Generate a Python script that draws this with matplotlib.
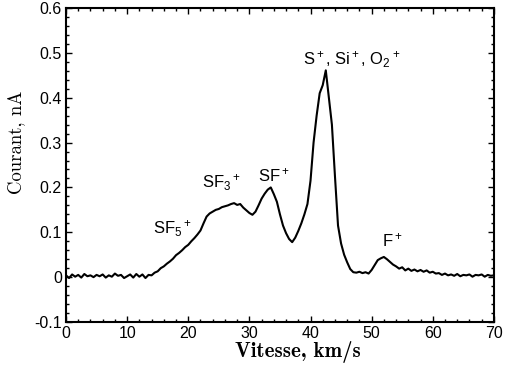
import numpy as np
import matplotlib.pyplot as plt
from matplotlib.ticker import MultipleLocator

plt.rcParams['font.family'] = 'Liberation Sans'
plt.rcParams['mathtext.fontset'] = 'custom'
plt.rcParams['mathtext.rm'] = 'Liberation Sans'
plt.rcParams['mathtext.it'] = 'Liberation Sans'
plt.rcParams['axes.unicode_minus'] = False

vitesse = np.arange(0, 70.01, 0.5)
courant = [
    0.004, -0.002, 0.006, 0.001, 0.005, -0.001, 0.007, 0.002, 0.004, 0.000,
    0.005, 0.002, 0.006, -0.001, 0.004, 0.001, 0.008, 0.003, 0.005, -0.002,
    0.002, 0.006, -0.001, 0.007, 0.001, 0.006, -0.002, 0.005, 0.004, 0.010,
    0.013, 0.020, 0.024, 0.030, 0.035, 0.041, 0.049, 0.054, 0.060, 0.067,
    0.072, 0.080, 0.087, 0.095, 0.104, 0.120, 0.135, 0.142, 0.146, 0.150,
    0.152, 0.156, 0.158, 0.160, 0.163, 0.165, 0.161, 0.163, 0.155, 0.149,
    0.143, 0.139, 0.146, 0.160, 0.175, 0.186, 0.195, 0.200, 0.185, 0.168,
    0.140, 0.115, 0.098, 0.085, 0.078, 0.088, 0.103, 0.120, 0.140, 0.163,
    0.215, 0.300, 0.360, 0.410, 0.428, 0.461, 0.400, 0.340, 0.225, 0.115,
    0.075, 0.050, 0.033, 0.018, 0.011, 0.010, 0.012, 0.009, 0.011, 0.008,
    0.016, 0.027, 0.038, 0.042, 0.045, 0.040, 0.034, 0.028, 0.024, 0.019,
    0.022, 0.015, 0.019, 0.014, 0.017, 0.013, 0.016, 0.012, 0.015, 0.010,
    0.012, 0.008, 0.009, 0.005, 0.008, 0.004, 0.006, 0.003, 0.007, 0.002,
    0.005, 0.004, 0.006, 0.001, 0.005, 0.004, 0.006, 0.001, 0.005, 0.003,
    0.004,
]

# Peak labels
ions = [r'SF$_5$$^+$', r'SF$_3$$^+$', r'SF$^+$', r'S$^+$, Si$^+$, O$_2$$^+$', r'F$^+$']
ion_x = [17.4, 25.4, 34.0, 46.8, 53.3]
ion_y = [0.108, 0.210, 0.226, 0.484, 0.083]

fig = plt.figure(figsize=(5.05, 3.65), dpi=100)
ax = fig.add_axes([0.1307, 0.1178, 0.8473, 0.8603])

ax.plot(vitesse, courant, color='black', lw=1.5)

for lab, x, y in zip(ions, ion_x, ion_y):
    ax.text(x, y, lab, fontsize=12, ha='center', va='center')

ax.set_xlim(0, 70)
ax.set_ylim(-0.1, 0.6)
ax.xaxis.set_major_locator(MultipleLocator(10))
ax.xaxis.set_minor_locator(MultipleLocator(2))
ax.yaxis.set_minor_locator(MultipleLocator(0.02))
ax.set_yticks(np.arange(-0.1, 0.61, 0.1))
ax.set_yticklabels(['-0.1', '0', '0.1', '0.2', '0.3', '0.4', '0.5', '0.6'])
ax.tick_params(which='both', direction='in', top=True, right=True, labelsize=11.5, width=1)
ax.tick_params(which='major', length=4, pad=3)
ax.tick_params(which='minor', length=2)
for s in ax.spines.values():
    s.set_linewidth(1.5)

ax.set_xlabel('Vitesse, km/s', fontfamily='cmb10', fontsize=15)
ax.xaxis.set_label_coords(0.542, -0.06)
ax.set_ylabel('Courant, nA', fontfamily='cmr10', fontsize=13.5)
ax.yaxis.set_label_coords(-0.096, 0.573)

plt.savefig('out.png', dpi=100)
